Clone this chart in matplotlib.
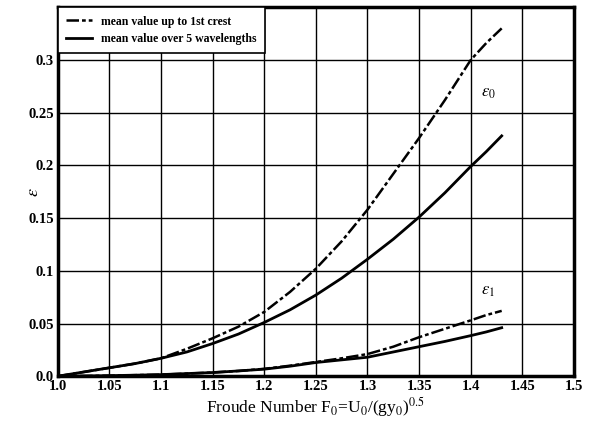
import matplotlib.pyplot as plt

# DATA

froude = [1.0, 1.025, 1.05, 1.075, 1.1, 1.125, 1.15, 1.175, 1.2, 1.225,
          1.25, 1.275, 1.3, 1.325, 1.35, 1.375, 1.4, 1.415, 1.43]

eps0_crest = [0.0, 0.004, 0.008, 0.012, 0.017, 0.026, 0.036, 0.047, 0.061, 0.080,
              0.102, 0.128, 0.158, 0.192, 0.226, 0.262, 0.300, 0.316, 0.330]
eps0_waves = [0.0, 0.004, 0.008, 0.012, 0.017, 0.023, 0.031, 0.040, 0.051, 0.063,
              0.077, 0.093, 0.111, 0.130, 0.151, 0.174, 0.199, 0.213, 0.228]
eps1_crest = [0.0, 0.0002, 0.0005, 0.001, 0.0015, 0.0025, 0.0035, 0.005, 0.007, 0.010,
              0.0135, 0.017, 0.021, 0.028, 0.037, 0.045, 0.053, 0.058, 0.062]
eps1_waves = [0.0, 0.0002, 0.0005, 0.001, 0.0015, 0.0025, 0.0035, 0.005, 0.0067, 0.0095,
              0.013, 0.0155, 0.018, 0.023, 0.028, 0.033, 0.0385, 0.042, 0.046]

x_ticks = [1.0, 1.05, 1.1, 1.15, 1.2, 1.25, 1.3, 1.35, 1.4, 1.45, 1.5]
x_labels = ["1.0", "1.05", "1.1", "1.15", "1.2", "1.25", "1.3", "1.35", "1.4", "1.45", "1.5"]
y_ticks = [0.0, 0.05, 0.1, 0.15, 0.2, 0.25, 0.3]
y_labels = ["0.0", "0.05", "0.1", "0.15", "0.2", "0.25", "0.3"]

# STYLE

plt.rcParams["font.family"] = ["Liberation Serif", "DejaVu Serif"]
plt.rcParams["mathtext.fontset"] = "stix"

fig = plt.figure(figsize=(5.96, 4.28), dpi=100)
ax = fig.add_axes([0.097, 0.121, 0.866, 0.862])

dashdot = (0, (5, 1.2, 1.5, 1.2))

ax.plot(froude, eps0_crest, color="black", lw=1.8, linestyle=dashdot,
        label="mean value up to 1st crest")
ax.plot(froude, eps0_waves, color="black", lw=2.0,
        label="mean value over 5 wavelengths")
ax.plot(froude, eps1_crest, color="black", lw=1.8, linestyle=dashdot)
ax.plot(froude, eps1_waves, color="black", lw=2.0)

ax.text(1.417, 0.269, r"$\epsilon_0$", fontsize=12, ha="center", va="center")
ax.text(1.417, 0.081, r"$\epsilon_1$", fontsize=12, ha="center", va="center")

# AXES

ax.set_xlim(1.0, 1.5)
ax.set_ylim(0.0, 0.35)
ax.set_xticks(x_ticks)
ax.set_xticklabels(x_labels, fontsize=10.5, fontweight="bold")
ax.set_yticks(y_ticks)
ax.set_yticklabels(y_labels, fontsize=10.5, fontweight="bold")
ax.tick_params(length=0, pad=3)

ax.grid(True, color="black", lw=1.0)
for spine in ax.spines.values():
    spine.set_linewidth(2.5)

ax.set_xlabel(r"Froude Number F$_0$=U$_0$/(gy$_0$)$^{0.5}$", fontsize=12.5,
              labelpad=1)
ax.set_ylabel(r"$\epsilon$", fontsize=13)
ax.yaxis.set_label_coords(-0.03, 0.5)

leg = ax.legend(loc="upper left", fontsize=8.5, frameon=True, fancybox=False,
                borderaxespad=0, handlelength=2.2, borderpad=0.7,
                labelspacing=0.45)
leg.get_frame().set_edgecolor("black")
leg.get_frame().set_linewidth(1.2)
leg.get_frame().set_alpha(1)
for t in leg.get_texts():
    t.set_fontweight("bold")

fig.savefig("out.png", dpi=100)
